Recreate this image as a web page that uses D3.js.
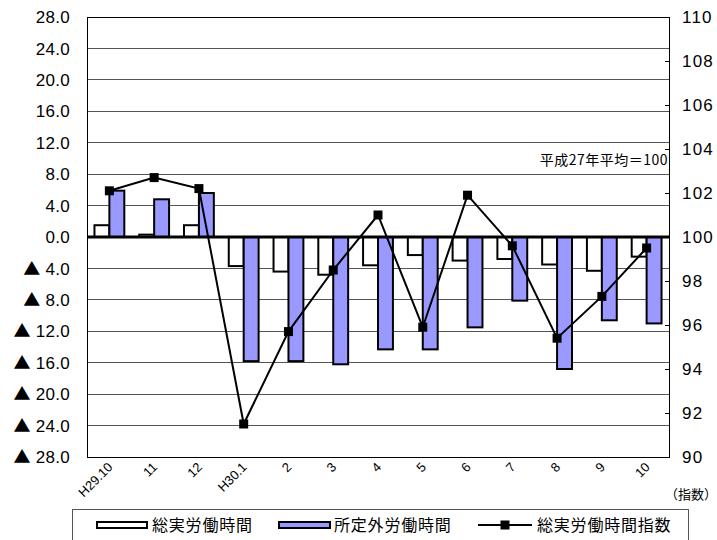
<!DOCTYPE html>
<html><head><meta charset="utf-8">
<script src="https://cdn.jsdelivr.net/npm/d3@7"></script>
<style>
html,body{margin:0;padding:0;background:#fff;}
svg{display:block;}
</style></head>
<body>
<script>
const categories = ["H29.10","11","12","H30.1","2","3","4","5","6","7","8","9","10"];
const totalHours = [1.5, 0.3, 1.5, -3.7, -4.4, -4.8, -3.6, -2.3, -3.0, -2.8, -3.5, -4.3, -2.5];
const overtimeHours = [5.9, 4.8, 5.6, -15.8, -15.8, -16.2, -14.3, -14.3, -11.5, -8.1, -16.8, -10.6, -11.0];
const hoursIndex = [102.1, 102.7, 102.2, 91.5, 95.7, 98.5, 101.0, 95.9, 101.9, 99.6, 95.4, 97.3, 99.5];
const leftTicks = [28, 24, 20, 16, 12, 8, 4, 0, -4, -8, -12, -16, -20, -24, -28];
const rightTicks = [110, 108, 106, 104, 102, 100, 98, 96, 94, 92, 90];
const seriesNames = ["総実労働時間", "所定外労働時間", "総実労働時間指数"];
const noteText = "平成27年平均＝100";
const unitText = "（指数）";

const W = 717, H = 540;
const L = 87, R = 669, T = 17, B = 457;
const svg = d3.select("body").append("svg").attr("width", W).attr("height", H);

const x = d3.scaleBand().domain(categories).range([L, R]).padding(0);
const yL = d3.scaleLinear().domain([-28, 28]).range([B, T]);
const yR = d3.scaleLinear().domain([90, 110]).range([B, T]);
const bw = x.bandwidth() / 3;
const cx = c => x(c) + x.bandwidth() / 2;

const numFont = "'Liberation Sans', Arial, sans-serif";
const jpFont = "'Noto Sans CJK JP', sans-serif";

// gridlines
svg.append("g").selectAll("line").data(leftTicks.filter(t => t !== 0 && t !== 28 && t !== -28)).join("line")
  .attr("x1", L).attr("x2", R).attr("y1", d => yL(d)).attr("y2", d => yL(d))
  .attr("stroke", "#555").attr("stroke-width", 1).attr("shape-rendering", "crispEdges");

// frame
svg.append("rect").attr("x", L).attr("y", T).attr("width", R - L).attr("height", B - T)
  .attr("fill", "none").attr("stroke", "#000").attr("stroke-width", 1).attr("shape-rendering", "crispEdges");

// right ticks (inside)
svg.append("g").selectAll("line").data(rightTicks).join("line")
  .attr("x1", R - 4).attr("x2", R).attr("y1", d => yR(d)).attr("y2", d => yR(d))
  .attr("stroke", "#000").attr("stroke-width", 1).attr("shape-rendering", "crispEdges");

// left axis labels
svg.append("g").selectAll("text").data(leftTicks).join("text")
  .attr("x", 70).attr("y", d => yL(d)).attr("dy", "0.36em").attr("text-anchor", "end")
  .attr("font-family", numFont).attr("font-size", 17).attr("letter-spacing", 0.3)
  .each(function(d) {
    const t = d3.select(this);
    if (d < 0) {
      t.append("tspan").attr("font-family", jpFont).attr("font-size", 17).text("▲");
      t.append("tspan").text(" " + Math.abs(d).toFixed(1));
    } else {
      t.text(d.toFixed(1));
    }
  });

// right axis labels
svg.append("g").selectAll("text").data(rightTicks).join("text")
  .attr("x", 682).attr("y", d => yR(d)).attr("dy", "0.36em").attr("text-anchor", "start")
  .attr("font-family", numFont).attr("font-size", 17).attr("letter-spacing", 1.2)
  .text(d => d);

// bars
const gBars = svg.append("g");
gBars.selectAll("rect.w").data(categories).join("rect").attr("class", "w")
  .attr("x", c => cx(c) - bw).attr("width", bw)
  .attr("y", (c, i) => yL(Math.max(0, totalHours[i])))
  .attr("height", (c, i) => Math.abs(yL(totalHours[i]) - yL(0)))
  .attr("fill", "#fff").attr("stroke", "#000").attr("stroke-width", 2);
gBars.selectAll("rect.b").data(categories).join("rect").attr("class", "b")
  .attr("x", c => cx(c)).attr("width", bw)
  .attr("y", (c, i) => yL(Math.max(0, overtimeHours[i])))
  .attr("height", (c, i) => Math.abs(yL(overtimeHours[i]) - yL(0)))
  .attr("fill", "#9999ff").attr("stroke", "#000").attr("stroke-width", 2);

// zero line
svg.append("line").attr("x1", L).attr("x2", R).attr("y1", yL(0)).attr("y2", yL(0))
  .attr("stroke", "#000").attr("stroke-width", 3);

// index line
const line = d3.line().x((d, i) => cx(categories[i])).y(d => yR(d));
svg.append("path").datum(hoursIndex).attr("d", line)
  .attr("fill", "none").attr("stroke", "#000").attr("stroke-width", 2);
svg.append("g").selectAll("rect").data(hoursIndex).join("rect")
  .attr("x", (d, i) => cx(categories[i]) - 4.5).attr("y", d => yR(d) - 4.5)
  .attr("width", 9).attr("height", 9).attr("fill", "#000");

// note
svg.append("text").attr("x", 668).attr("y", 165).attr("text-anchor", "end")
  .attr("font-family", jpFont).attr("font-size", 14).attr("letter-spacing", 0.5).text(noteText);

// x labels
svg.append("g").selectAll("text").data(categories).join("text")
  .attr("transform", c => `translate(${cx(c) + 4},${468}) rotate(-45)`)
  .attr("text-anchor", "end").attr("font-family", numFont).attr("font-size", 13)
  .text(c => c);

// unit
svg.append("text").attr("x", 717).attr("y", 499).attr("text-anchor", "end")
  .attr("font-family", jpFont).attr("font-size", 13).text(unitText);

// legend
svg.append("rect").attr("x", 72.5).attr("y", 509.5).attr("width", 616).attr("height", 40)
  .attr("fill", "#fff").attr("stroke", "#555").attr("stroke-width", 1);
const ly = 525;
svg.append("rect").attr("x", 97).attr("y", ly - 3).attr("width", 50).attr("height", 6)
  .attr("fill", "#fff").attr("stroke", "#000").attr("stroke-width", 2);
svg.append("rect").attr("x", 279).attr("y", ly - 3).attr("width", 51).attr("height", 6)
  .attr("fill", "#9999ff").attr("stroke", "#000").attr("stroke-width", 2);
svg.append("line").attr("x1", 478).attr("x2", 532).attr("y1", ly).attr("y2", ly)
  .attr("stroke", "#000").attr("stroke-width", 2);
svg.append("rect").attr("x", 505 - 4.5).attr("y", ly - 4.5).attr("width", 9).attr("height", 9).attr("fill", "#000");
const legX = [152, 334, 537];
svg.append("g").selectAll("text").data(seriesNames).join("text")
  .attr("x", (d, i) => legX[i]).attr("y", ly).attr("dy", "0.36em")
  .attr("font-family", jpFont).attr("font-size", 16).attr("letter-spacing", 0.8)
  .text(d => d);
</script>
</body></html>
